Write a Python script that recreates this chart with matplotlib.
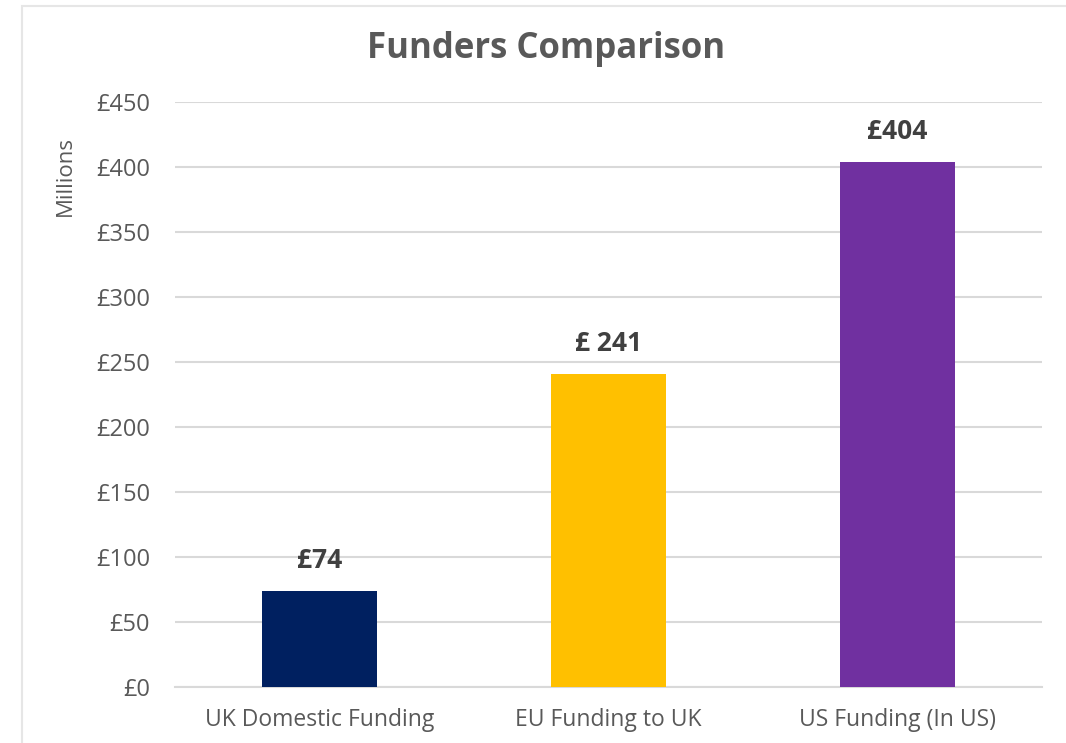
import matplotlib.pyplot as plt
from matplotlib.patches import Rectangle

plt.rcParams['font.family'] = ['Open Sans', 'DejaVu Sans']

categories = ["UK Domestic Funding", "EU Funding to UK", "US Funding (In US)"]
values = [74, 241, 404]
value_labels = ["£74", "£ 241", "£404"]
colors = ["#002060", "#FFC000", "#7030A0"]
yticks = [0, 50, 100, 150, 200, 250, 300, 350, 400, 450]

fig = plt.figure(figsize=(10.66, 7.43), dpi=100)
ax = fig.add_axes([175/1066, 1-687/743, 867/1066, 585/743])

# light chart frame (cut off on right and bottom like the screenshot)
fig.patches.append(Rectangle((22/1066, -0.1), 1.2, 1-6/743+0.1, transform=fig.transFigure,
                             fill=False, edgecolor="#E6E6E6", linewidth=1.5, zorder=0))

x = range(len(categories))
ax.bar(x, values, width=0.4, color=colors, zorder=3)
for xi, v, lab in zip(x, values, value_labels):
    ax.annotate(lab, (xi, v), xytext=(0, 12), textcoords="offset points",
                ha="center", va="bottom", fontsize=19, fontweight="bold", color="#404040")

ax.set_xlim(-0.5, 2.5)
ax.set_ylim(0, 450)
ax.set_yticks(yticks)
ax.set_yticklabels(["£" + str(t) for t in yticks])
ax.set_xticks(list(x))
ax.set_xticklabels(categories)
ax.yaxis.grid(True, color="#D9D9D9", linewidth=1.5, zorder=0)
ax.set_axisbelow(True)
for s in ["top", "right", "left"]:
    ax.spines[s].set_visible(False)
ax.spines["bottom"].set_color("#D9D9D9")
ax.spines["bottom"].set_linewidth(1.5)
ax.tick_params(axis="y", length=0, pad=18, labelsize=17, labelcolor="#595959")
ax.tick_params(axis="x", length=0, pad=15, labelsize=16.5, labelcolor="#595959")

fig.text(546/1066, 1-49/743, "Funders Comparison", ha="center", va="center",
         fontsize=25, fontweight="bold", color="#595959")
fig.text(65/1066, 1-176/743, "Millions", ha="center", va="center", rotation=90,
         fontsize=16, color="#595959")

fig.savefig("out.png", dpi=100)
